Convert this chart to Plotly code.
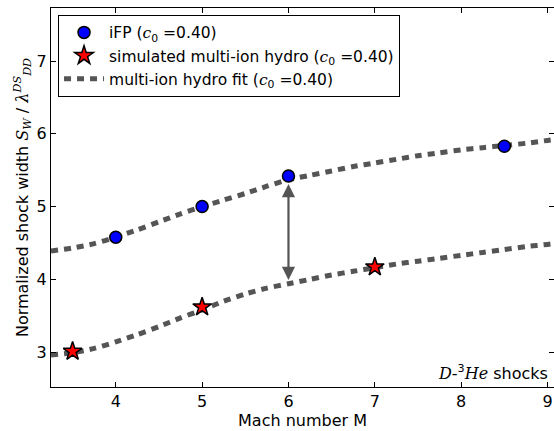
import plotly.graph_objects as go

# Data
ifp_x = [4.0, 5.0, 6.0, 8.5]
ifp_y = [4.58, 5.00, 5.42, 5.83]

sim_x = [3.5, 5.0, 7.0]
sim_y = [3.01, 3.62, 4.17]

fit_x = [3.25, 3.5, 3.75, 4.0, 4.25, 4.5, 4.75, 5.0, 5.25, 5.5, 5.75, 6.0,
         6.25, 6.5, 6.75, 7.0, 7.25, 7.5, 7.75, 8.0, 8.25, 8.5, 8.75, 9.0, 9.075]
fit_upper = [4.39, 4.43, 4.49, 4.58, 4.68, 4.79, 4.90, 5.00, 5.09, 5.18, 5.28, 5.37,
             5.43, 5.49, 5.55, 5.60, 5.65, 5.70, 5.74, 5.78, 5.81, 5.84, 5.87, 5.91, 5.92]
fit_lower = [2.96, 2.99, 3.05, 3.14, 3.24, 3.35, 3.47, 3.58, 3.70, 3.80, 3.88, 3.94,
             4.00, 4.06, 4.11, 4.16, 4.21, 4.25, 4.29, 4.33, 4.37, 4.41, 4.45, 4.48, 4.49]

arrow_x = 6.0
arrow_top = 5.33
arrow_bottom = 3.99

x_ticks = [4, 5, 6, 7, 8, 9]
y_ticks = [3, 4, 5, 6, 7]

SERIF = "'DejaVu Serif', serif"
def m(s):
    return f"<span style=\"font-family:{SERIF}\"><i>{s}</i></span>"

c0 = f"{m('c')}<sub>0</sub> =0.40"

fit_color = "#555555"
fit_line = dict(color=fit_color, width=5, dash="7px,6px", shape="spline", smoothing=0.6)

fig = go.Figure()

fig.add_trace(go.Scatter(x=fit_x, y=fit_upper, mode="lines", line=fit_line,
                         name=f"multi-ion hydro fit ({c0})", showlegend=False))
fig.add_trace(go.Scatter(x=fit_x, y=fit_lower, mode="lines", line=fit_line,
                         name=f"multi-ion hydro fit ({c0})", showlegend=False))

fig.add_trace(go.Scatter(x=ifp_x, y=ifp_y, mode="markers",
                         marker=dict(symbol="circle", size=12, color="#0000ff",
                                     line=dict(color="black", width=1.5)),
                         name=f"iFP ({c0})"))
fig.add_trace(go.Scatter(x=sim_x, y=sim_y, mode="markers",
                         marker=dict(symbol="star", size=14, color="#ff0000",
                                     line=dict(color="black", width=1.5)),
                         name=f"simulated multi-ion hydro ({c0})"))
# legend entry for the fit
fig.add_trace(go.Scatter(x=[None], y=[None], mode="lines",
                         line=dict(color=fit_color, width=5, dash="7px,6px"),
                         name=f"multi-ion hydro fit ({c0})"))

fig.add_annotation(x=arrow_x, y=arrow_bottom, ax=arrow_x, ay=arrow_top,
                   xref="x", yref="y", axref="x", ayref="y",
                   text="", showarrow=True, arrowhead=2, startarrowhead=2,
                   arrowside="end+start", arrowsize=1.2, startarrowsize=1.2,
                   arrowwidth=2.2, arrowcolor="#555555")

fig.add_annotation(x=1.0, y=0.0, xref="paper", yref="paper",
                   xanchor="right", yanchor="bottom", xshift=-4, yshift=2,
                   text=f"{m('D')}-<sup>3</sup>{m('He')} shocks",
                   showarrow=False, font=dict(size=16, color="black"))

axis_common = dict(showline=True, linecolor="black", linewidth=1, mirror="ticks",
                   ticks="inside", ticklen=5, tickwidth=1, tickcolor="black",
                   showgrid=False, zeroline=False, automargin=False,
                   tickfont=dict(size=16, color="black"))

fig.update_xaxes(range=[3.25, 9.075], tickvals=x_ticks,
                 title=dict(text="Mach number M", font=dict(size=16, color="black"), standoff=2),
                 **axis_common)
fig.update_yaxes(range=[2.52, 7.73], tickvals=y_ticks,
                 title=dict(text=f"Normalized shock width {m('S')}<sub>{m('W')}</sub> / {m('λ')}<sup>{m('DS')}</sup><sub>{m('DD')}</sub>",
                            font=dict(size=16, color="black"), standoff=4),
                 **axis_common)

fig.update_layout(
    width=554, height=431,
    margin=dict(l=51, r=0, t=8, b=44, autoexpand=False),
    paper_bgcolor="white", plot_bgcolor="white",
    font=dict(family="DejaVu Sans", size=16, color="black"),
    legend=dict(x=0.014, y=0.982, xanchor="left", yanchor="top",
                bordercolor="black", borderwidth=1, bgcolor="white",
                font=dict(size=15.5), itemwidth=40, tracegroupgap=0),
)

fig.write_html("out.html", config={"displayModeBar": False},
               post_script="document.body.style.margin='0';document.body.style.overflow='hidden';")
